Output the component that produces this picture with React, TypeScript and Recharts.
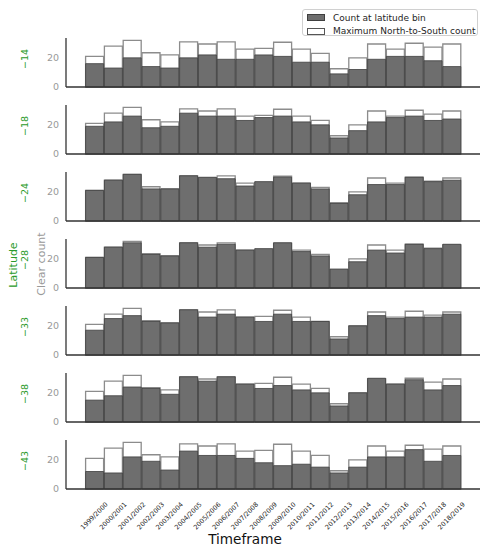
import { BarChart, Bar, XAxis, YAxis } from "recharts";

const timeframes = [
  "1999/2000", "2000/2001", "2001/2002", "2002/2003", "2003/2004",
  "2004/2005", "2005/2006", "2006/2007", "2007/2008", "2008/2009",
  "2009/2010", "2010/2011", "2011/2012", "2012/2013", "2013/2014",
  "2014/2015", "2015/2016", "2016/2017", "2017/2018", "2018/2019",
];

// maximum north-to-south count, same in every panel
const maxCounts = [21, 28, 32, 23.5, 22, 31, 29.5, 31, 26, 26.5, 30.7, 26, 23, 12.5, 20, 29.5, 26, 30, 27.3, 29.5];

const lat14 = [16, 13, 20, 14, 13, 20, 22, 19, 19, 22, 21, 17, 17, 9, 12, 19, 21, 21, 18, 14];
const lat18 = [19, 22, 26, 18, 19, 28, 26, 26, 23, 25, 26, 22, 20, 11, 16, 22, 25, 26, 23, 24];
const lat24 = [21, 28, 32, 22, 22, 31, 30, 29, 24, 27, 30, 26, 22, 12, 18, 25, 25, 30, 27, 28];
const lat28 = [21, 28, 31, 23, 22, 31, 28, 30, 26, 27, 31, 25, 22, 13, 18, 26, 24, 30, 27, 30];
const lat33 = [17, 25, 27, 23, 22, 31, 26, 28, 26, 23, 28, 23, 23, 11, 20, 27, 25, 26, 26, 28];
const lat38 = [15, 18, 24, 23, 19, 31, 28, 31, 26, 23, 25, 22, 20, 11, 20, 30, 26, 29, 22, 25];
const lat43 = [12, 11, 22, 19, 13, 26, 23, 23, 21, 18, 16, 17, 15, 11, 15, 22, 22, 27, 19, 23];

const latitudes = ["\u221214", "\u221218", "\u221224", "\u221228", "\u221233", "\u221238", "\u221243"];
const latCounts = [lat14, lat18, lat24, lat28, lat33, lat38, lat43];

const yTicks = [0, 20];

const FONT = "'DejaVu Sans', sans-serif";
const GREEN = "#2a9a2a";
const DARK = "#6e6e6e";

const PLOT_TOP = 38;
const PLOT_H = 49;
const STEP = 67;

function XTick({ x, y, payload }: any) {
  return (
    <text
      transform={`translate(${x},${y + 19}) rotate(-45)`}
      textAnchor="middle"
      dominantBaseline="central"
      fontSize={6.5}
      fontFamily={FONT}
      fill="#222"
    >
      {payload.value}
    </text>
  );
}

function Panel({ idx }: { idx: number }) {
  const counts = latCounts[idx];
  const data = timeframes.map((t, i) => ({ t, max: maxCounts[i], count: counts[i] }));
  const last = idx === latCounts.length - 1;
  const top = PLOT_TOP + STEP * idx;
  const xh = last ? 60 : 10;
  return (
    <>
      <div style={{ position: "absolute", left: 0, top: top - 4 }}>
        <BarChart
          width={488}
          height={4 + PLOT_H + xh}
          data={data}
          margin={{ top: 4, right: 8, left: 0, bottom: 0 }}
          barCategoryGap={0.6}
        >
          <XAxis
            xAxisId="a"
            dataKey="t"
            height={xh}
            padding={{ left: 19, right: 19 }}
            axisLine={{ stroke: "#333", strokeWidth: 1.3 }}
            tickLine={false}
            tick={last ? <XTick /> : false}
            interval={0}
          />
          <XAxis xAxisId="b" dataKey="t" hide padding={{ left: 19, right: 19 }} />
          <YAxis
            width={66}
            domain={[0, 33.6]}
            ticks={yTicks}
            axisLine={{ stroke: "#333", strokeWidth: 1.3 }}
            tickLine={false}
            tickSize={0}
            tickMargin={7}
            tick={{ fontSize: 9.5, fill: "#999", fontFamily: FONT }}
          />
          <Bar xAxisId="b" dataKey="max" fill="#fff" stroke="#8c8c8c" strokeWidth={1.3} isAnimationActive={false} />
          <Bar xAxisId="a" dataKey="count" fill={DARK} stroke="#3f3f3f" strokeWidth={0.8} isAnimationActive={false} />
        </BarChart>
      </div>
      <div
        style={{
          position: "absolute",
          left: 24,
          top: top + PLOT_H / 2 - 4,
          transform: "translate(-50%, -50%) rotate(-90deg)",
          color: GREEN,
          fontSize: 9.5,
          fontFamily: FONT,
          whiteSpace: "nowrap",
        }}
      >
        {latitudes[idx]}
      </div>
    </>
  );
}

export default function App() {
  return (
    <div style={{ position: "absolute", left: 0, top: 0, width: 488, height: 550, background: "#fff", fontFamily: FONT }}>
      {latCounts.map((_, i) => (
        <Panel key={i} idx={i} />
      ))}
      <div
        style={{
          position: "absolute", left: 13, top: 265,
          transform: "translate(-50%, -50%) rotate(-90deg)",
          color: GREEN, fontSize: 11, whiteSpace: "nowrap",
        }}
      >
        Latitude
      </div>
      <div
        style={{
          position: "absolute", left: 40.5, top: 264,
          transform: "translate(-50%, -50%) rotate(-90deg)",
          color: "#999", fontSize: 11, whiteSpace: "nowrap",
        }}
      >
        Clear count
      </div>
      <div
        style={{
          position: "absolute", left: 245, top: 539,
          transform: "translate(-50%, -50%)",
          color: "#111", fontSize: 13.6, whiteSpace: "nowrap",
        }}
      >
        Timeframe
      </div>
      <div
        style={{
          position: "absolute", left: 302, top: 9, width: 176, height: 27,
          border: "1px solid #d0d0d0", borderRadius: 3, background: "rgba(255,255,255,0.85)",
          boxSizing: "border-box", fontSize: 9, color: "#262626",
        }}
      >
        {[
          { name: "Count at latitude bin", fill: DARK, stroke: "#3f3f3f" },
          { name: "Maximum North-to-South count", fill: "#fff", stroke: "#555" },
        ].map((it, i) => (
          <div key={it.name} style={{ position: "absolute", left: 4, top: 2.5 + i * 13.5, height: 10, display: "flex", alignItems: "center", whiteSpace: "nowrap" }}>
            <span style={{ display: "inline-block", width: 16, height: 5, background: it.fill, border: `0.8px solid ${it.stroke}`, marginRight: 8 }} />
            {it.name}
          </div>
        ))}
      </div>
    </div>
  );
}
